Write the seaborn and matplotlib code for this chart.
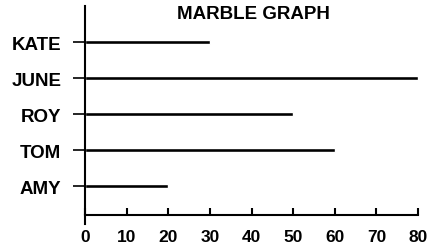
import pandas as pd
import seaborn as sns
import matplotlib
matplotlib.use("Agg")
import matplotlib.pyplot as plt

# data
names = ["KATE", "JUNE", "ROY", "TOM", "AMY"]
marbles = [30, 80, 50, 60, 20]
x_ticks = [0, 10, 20, 30, 40, 50, 60, 70, 80]

df = pd.DataFrame({"name": names, "marbles": marbles})

sns.set_style("white")
plt.rcParams["font.family"] = ["Liberation Sans", "DejaVu Sans"]
plt.rcParams["font.weight"] = "bold"
plt.rcParams["text.color"] = "black"
plt.rcParams["xtick.color"] = "black"
plt.rcParams["ytick.color"] = "black"

fig = plt.figure(figsize=(4.28, 2.51), dpi=100)
ax = fig.add_axes([85 / 428, 35 / 251, 333 / 428, 209 / 251])

sns.barplot(data=df, x="marbles", y="name", orient="h", color="black",
            width=0.12, ax=ax, saturation=1)

ax.set_xlim(0, 80)
ax.set_ylim(4.8, -1.0)
ax.set_xticks(x_ticks)
ax.set_xlabel("")
ax.set_ylabel("")

for s in ["top", "right"]:
    ax.spines[s].set_visible(False)
for s in ["left", "bottom"]:
    ax.spines[s].set_linewidth(1.5)
    ax.spines[s].set_color("black")
ax.spines["left"].set_bounds(-1.0, 5.05)

ax.tick_params(axis="x", direction="in", length=5, width=1.5, pad=10,
               labelsize=12.5, bottom=True, colors="black")
ax.tick_params(axis="y", direction="out", length=9, width=1.2, pad=8,
               labelsize=13.5, left=True, colors="black")
for lab in ax.get_xticklabels() + ax.get_yticklabels():
    lab.set_fontweight("bold")

ax.text(0.505, 0.962, "MARBLE GRAPH", transform=ax.transAxes, ha="center",
        va="center", fontsize=13.5, fontweight="bold", color="black")

fig.savefig("out.png", dpi=100)
